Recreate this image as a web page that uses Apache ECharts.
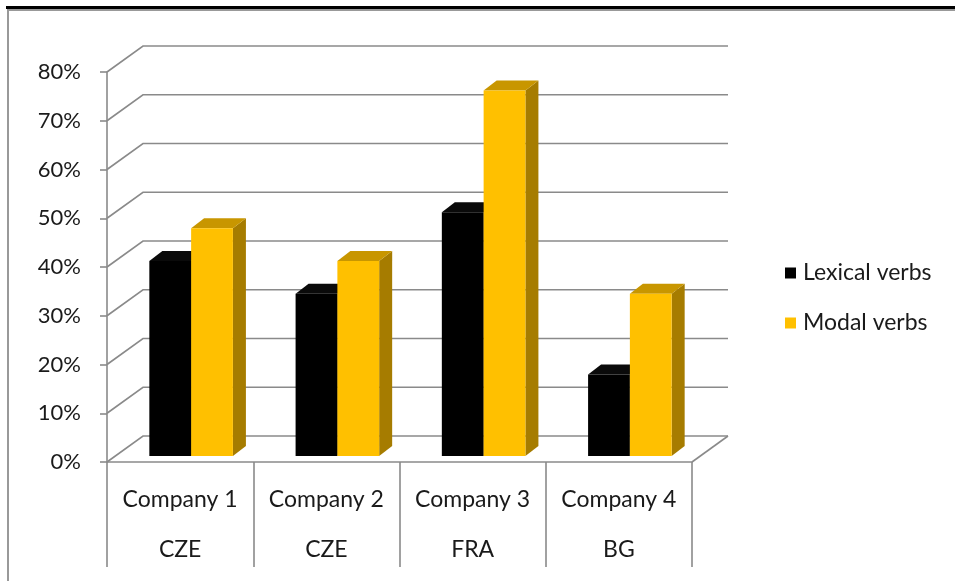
<!DOCTYPE html>
<html>
<head>
<meta charset="utf-8">
<script src="https://cdn.jsdelivr.net/npm/echarts@6/dist/echarts.min.js"></script>
<style>
html,body{margin:0;padding:0;background:#fff;}
#chart{width:955px;height:581px;}
</style>
</head>
<body>
<div id="chart"></div>
<script>
// ---- data ----
var categories = ['Company 1', 'Company 2', 'Company 3', 'Company 4'];
var countries = ['CZE', 'CZE', 'FRA', 'BG'];
var lexicalVerbs = [40, 33.3, 50, 16.7];
var modalVerbs = [46.7, 40, 75, 33.3];
var yTicks = [0, 10, 20, 30, 40, 50, 60, 70, 80];
var seriesNames = ['Lexical verbs', 'Modal verbs'];

// ---- styling / projection ----
var FONT = 'Lato';
var TEXT_COLOR = '#1a1a1a';
var GRID_COLOR = '#8a8a8a';
var WALL_DX = 36, WALL_DY = -26;      // back wall offset
var BAR_DX = 11, BAR_DY = -6;         // bar front-face offset
var DEPTH_DX = 13, DEPTH_DY = -10;    // bar depth
var colors = {
  lex: { front: '#000000', top: '#0a0a0a', side: '#000000' },
  mod: { front: '#FFC000', top: '#C89600', side: '#A67C00' }
};

var chart = echarts.init(document.getElementById('chart'), null, { renderer: 'canvas' });

function wallItem(params, api) {
  var cs = params.coordSys;
  var left = cs.x, right = cs.x + cs.width;
  var y = api.coord([0, api.value(0)])[1];
  var children = [{
    type: 'polyline',
    shape: { points: [[left, y], [left + WALL_DX, y + WALL_DY], [right + WALL_DX, y + WALL_DY]] },
    style: { stroke: GRID_COLOR, lineWidth: 1.6, fill: null }
  }];
  if (api.value(0) === 0) {
    children.push({
      type: 'line',
      shape: { x1: right, y1: y, x2: right + WALL_DX, y2: y + WALL_DY },
      style: { stroke: GRID_COLOR, lineWidth: 1.6 }
    });
  }
  return { type: 'group', children: children };
}

function makeBarRenderer(offsetIndex, c) {
  return function (params, api) {
    var i = api.value(0), v = api.value(1);
    var band = api.size([1, 0])[0];
    var w = band / 3.5;
    var cx = api.coord([i, 0])[0];
    var base = api.coord([i, 0])[1];
    var topY = api.coord([i, v])[1];
    var x0 = cx - w + offsetIndex * w + BAR_DX;
    var yb = base + BAR_DY, yt = topY + BAR_DY;
    return {
      type: 'group',
      children: [
        { type: 'polygon', shape: { points: [[x0 + w, yt], [x0 + w + DEPTH_DX, yt + DEPTH_DY], [x0 + w + DEPTH_DX, yb + DEPTH_DY], [x0 + w, yb]] },
          style: { fill: c.side } },
        { type: 'polygon', shape: { points: [[x0, yt], [x0 + w, yt], [x0 + w + DEPTH_DX, yt + DEPTH_DY], [x0 + DEPTH_DX, yt + DEPTH_DY]] },
          style: { fill: c.top } },
        { type: 'rect', shape: { x: x0, y: yt, width: w, height: yb - yt },
          style: { fill: c.front } }
      ]
    };
  };
}

var option = {
  backgroundColor: '#ffffff',
  animation: false,
  textStyle: { fontFamily: FONT },
  graphic: [
    { type: 'line', shape: { x1: 6, y1: 7.5, x2: 955, y2: 7.5 }, style: { stroke: '#000', lineWidth: 3 }, z: 10 },
    { type: 'polyline', shape: { points: [[8, 581], [8, 10], [955, 10]] }, style: { stroke: '#999', lineWidth: 2, fill: null }, z: 9 }
  ],
  legend: {
    orient: 'vertical',
    left: 780,
    top: 256,
    itemWidth: 11,
    itemHeight: 11,
    itemGap: 26,
    icon: 'rect',
    textStyle: { fontFamily: FONT, fontSize: 23, color: TEXT_COLOR, lineHeight: 24, padding: [0, 0, 0, 2] },
    data: seriesNames
  },
  grid: { left: 107, top: 72, width: 585, height: 390, containLabel: false },
  xAxis: {
    type: 'category',
    data: categories,
    boundaryGap: true,
    axisLine: { show: true, lineStyle: { color: GRID_COLOR, width: 1.6 } },
    axisTick: { show: true, interval: 0, length: 105, lineStyle: { color: GRID_COLOR, width: 1.6 } },
    axisLabel: {
      interval: 0,
      margin: 13,
      fontFamily: FONT,
      fontSize: 23,
      color: TEXT_COLOR,
      lineHeight: 50,
      formatter: function (value, index) { return value + '\n' + countries[index]; }
    },
    splitLine: { show: false }
  },
  yAxis: {
    type: 'value',
    min: 0, max: 80, interval: 10,
    axisLine: { show: true, lineStyle: { color: GRID_COLOR, width: 1.6 } },
    axisTick: { show: true, length: 7, lineStyle: { color: GRID_COLOR, width: 1.6 } },
    axisLabel: { margin: 26, fontFamily: FONT, fontSize: 22, color: TEXT_COLOR, formatter: '{value}%' },
    splitLine: { show: false }
  },
  series: [
    {
      type: 'custom', name: 'walls', z: 1, silent: true,
      data: yTicks.map(function (t) { return [t]; }),
      encode: { y: 0 },
      renderItem: wallItem
    },
    {
      type: 'custom', name: seriesNames[0], z: 2,
      itemStyle: { color: colors.lex.front },
      data: lexicalVerbs.map(function (v, i) { return [i, v]; }),
      encode: { x: 0, y: 1 },
      renderItem: makeBarRenderer(0, colors.lex)
    },
    {
      type: 'custom', name: seriesNames[1], z: 3,
      itemStyle: { color: colors.mod.front },
      data: modalVerbs.map(function (v, i) { return [i, v]; }),
      encode: { x: 0, y: 1 },
      renderItem: makeBarRenderer(1, colors.mod)
    }
  ]
};
chart.setOption(option);
</script>
</body>
</html>
